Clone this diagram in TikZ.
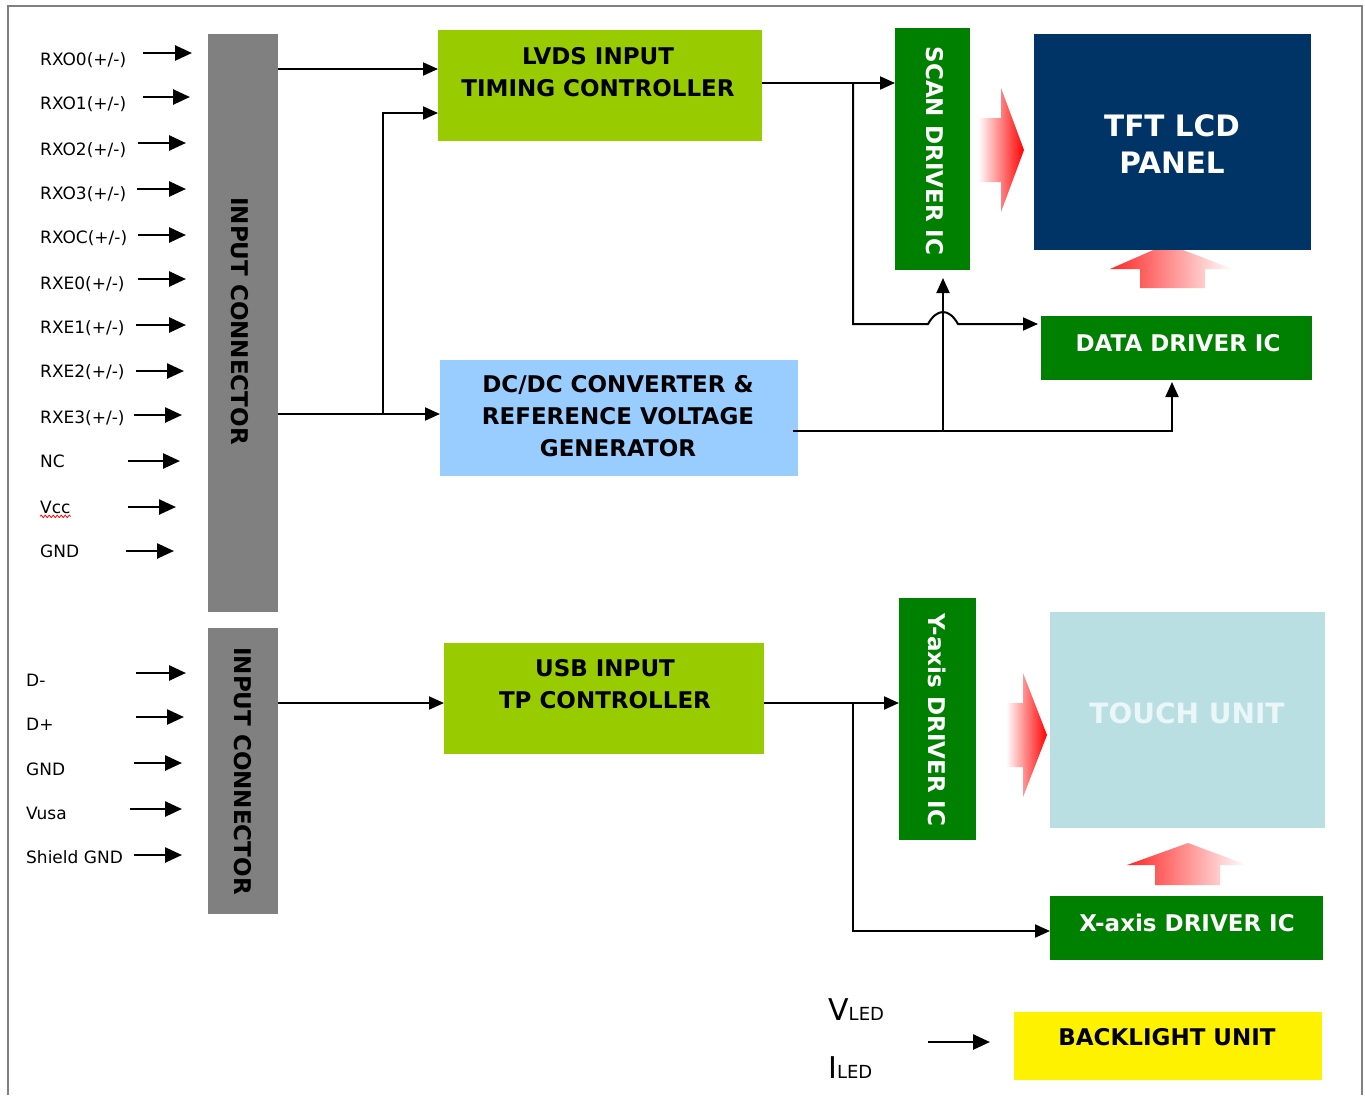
\documentclass[tikz,border=0pt]{standalone}
\usepackage{fontspec}
\setmainfont{DejaVu Sans}
\usetikzlibrary{arrows.meta,decorations.pathmorphing}
\definecolor{lime}{HTML}{99CC00}
\definecolor{sky}{HTML}{99CCFF}
\definecolor{dgreen}{HTML}{008000}
\definecolor{navy}{HTML}{003366}
\definecolor{touchbg}{HTML}{B9DFE3}
\definecolor{touchtx}{HTML}{EAF6F7}
\definecolor{gry}{HTML}{808080}
\newcommand\pmm{(+/-)}
\begin{document}
\begin{tikzpicture}[x=1pt,y=-1pt,
  boxn/.style={inner sep=0, outer sep=0, anchor=north west, draw=none},
  txt/.style={inner sep=0, align=center, font=\bfseries\fontsize{23}{32}\selectfont},
  lab/.style={anchor=west, inner sep=0, font=\fontsize{17}{20}\selectfont, text height=12.4pt, text depth=0pt},
  conn/.style={line width=2pt},
  arr/.style={conn, -{Triangle[length=15pt,width=13pt]}},
  inarr/.style={line width=2.6pt, -{Triangle[length=17pt,width=15pt]}}]
\useasboundingbox (0,0) rectangle (1365,1095);
% frame
\draw[gry, line width=2pt] (8,1095) -- (8,6) -- (1362,6) -- (1362,1095);

% fat gradient arrows (drawn first)
\shade[left color=white, right color=red] (978,118) -- (1001,118) -- (1001,88) -- (1024,150) -- (1001,212) -- (1001,182) -- (978,182) -- cycle;
\shade[left color=red!85, right color=white] (1140,288) -- (1140,269) -- (1110,269) -- (1167,244) -- (1233,269) -- (1205,269) -- (1205,288) -- cycle;
\shade[left color=white, right color=red] (1006,703) -- (1023,703) -- (1023,673) -- (1047,735) -- (1023,797) -- (1023,767) -- (1006,767) -- cycle;
\shade[left color=red!85, right color=white] (1155,885) -- (1155,865) -- (1127,865) -- (1188,843) -- (1247,865) -- (1220,865) -- (1220,885) -- cycle;

% boxes
\node[boxn, fill=gry, minimum width=70pt, minimum height=578pt] (ic1) at (208,34) {};
\node[boxn, fill=gry, minimum width=70pt, minimum height=286pt] (ic2) at (208,628) {};
\node[boxn, fill=lime, minimum width=324pt, minimum height=111pt] (lvds) at (438,30) {};
\node[boxn, fill=sky, minimum width=358pt, minimum height=116pt] (dcdc) at (440,360) {};
\node[boxn, fill=dgreen, minimum width=75pt, minimum height=242pt] (scan) at (895,28) {};
\node[boxn, fill=navy, minimum width=277pt, minimum height=216pt] (tft) at (1034,34) {};
\node[boxn, fill=dgreen, minimum width=271pt, minimum height=64pt] (data) at (1041,316) {};
\node[boxn, fill=lime, minimum width=320pt, minimum height=111pt] (usb) at (444,643) {};
\node[boxn, fill=dgreen, minimum width=77pt, minimum height=242pt] (yax) at (899,598) {};
\node[boxn, fill=touchbg, minimum width=275pt, minimum height=216pt] (touch) at (1050,612) {};
\node[boxn, fill=dgreen, minimum width=273pt, minimum height=64pt] (xax) at (1050,896) {};
\node[boxn, fill=yellow, minimum width=308pt, minimum height=68pt] (bl) at (1014,1012) {};

% box texts
\node[txt, rotate=-90] (ic1t) at (240,321) {INPUT CONNECTOR};
\node[txt, rotate=-90] (ic2t) at (243,771) {INPUT CONNECTOR};
\node[txt] (lvdst) at (598,72) {LVDS INPUT\\TIMING CONTROLLER};
\node[txt] (dcdct) at (618,416) {DC/DC CONVERTER \&\\REFERENCE VOLTAGE\\GENERATOR};
\node[txt, white, rotate=-90] (scant) at (935,151) {SCAN DRIVER IC};
\node[inner sep=0, align=center, white, font=\bfseries\fontsize{29.5}{37}\selectfont] (tftt) at (1172,144.5) {TFT LCD\\PANEL};
\node[txt, white] (datat) at (1178,343) {DATA DRIVER IC};
\node[txt] (usbt) at (605,684) {USB INPUT\\TP CONTROLLER};
\node[txt, white, rotate=-90] (yaxt) at (937,720) {Y-axis DRIVER IC};
\node[inner sep=0, touchtx, font=\bfseries\fontsize{28}{34}\selectfont] (toucht) at (1187,713) {TOUCH UNIT};
\node[txt, white] (xaxt) at (1187,923) {X-axis DRIVER IC};
\node[txt] (blt) at (1167,1037) {BACKLIGHT UNIT};

% input labels and arrows
\foreach \nm/\tx/\lx/\ly/\ay/\xs/\xe in {
  l1/RXO0\pmm/40/59/53/143/192,
  l2/RXO1\pmm/40/103/97/143/190,
  l3/RXO2\pmm/40/149/143/138/186,
  l4/RXO3\pmm/40/193/189/137/186,
  l5/RXOC\pmm/40/237/235/138/186,
  l6/RXE0\pmm/40/283/279/138/186,
  l7/RXE1\pmm/40/327/325/136/186,
  l8/RXE2\pmm/40/371/371/136/184,
  l9/RXE3\pmm/40/417/415/134/182,
  l10/NC/40/461/461/128/180,
  l11/Vcc/40/507/507/128/176,
  l12/GND/40/551/551/126/174,
  m1/D-/26/680/673/136/186,
  m2/D+/26/724/717/136/184,
  m3/GND/26/769/763/134/182,
  m4/Vusa/26/813/809/130/182,
  m5/Shield GND/26/857/855/134/182}{
  \node[lab] (\nm) at (\lx,\ly) {\tx};
  \coordinate (\nm s) at (\xs,\ay);
  \coordinate (\nm e) at (\xe,\ay);
  \draw[inarr] (\nm s) -- (\nm e);
}
\draw[red, line width=0.8pt, decorate, decoration={snake, amplitude=1.2pt, segment length=4pt}] ([yshift=-3pt]l11.south west) -- ([yshift=-3pt]l11.south east);

% connectors
\coordinate (p1) at (278,69);
\draw[arr] (p1) -- (lvds.west |- p1);
\coordinate (p2) at (278,414);
\draw[arr] (p2) -- (dcdc.west |- p2);
\coordinate (p3) at (383,414);
\coordinate (p4) at (438,113);
\draw[arr] (p3) |- (p4);

\coordinate (q1) at (762,83);
\draw[arr] (q1) -- (scan.west |- q1);
\coordinate (q2) at (853,83);
\coordinate (q3) at (1038,324);
\draw[arr] (q2) -- (853,324) -- (928,324) .. controls (937,308) and (949,308) .. (958,324) -- (q3);

\coordinate (r1) at (793,431);
\coordinate (r2) at (1172,382);
\draw[arr] (r1) -| (r2);
\coordinate (r3) at (943,431);
\coordinate (r4) at (943,278);
\draw[arr] (r3) -- (r4);

\coordinate (s1) at (278,703);
\draw[arr] (s1) -- (usb.west |- s1);
\coordinate (s2) at (764,703);
\draw[arr] (s2) -- (yax.west |- s2);
\coordinate (s3) at (853,703);
\coordinate (s4) at (1050,931);
\draw[arr] (s3) |- (s4);

% backlight input
\node[inner sep=0, anchor=base west] (vled) at (828,1020) {\fontsize{30}{32}\selectfont V\fontsize{18}{20}\selectfont LED};
\node[inner sep=0, anchor=base west] (iled) at (828,1078) {\fontsize{30}{32}\selectfont I\fontsize{18}{20}\selectfont LED};
\coordinate (v1) at (928,1042);
\coordinate (v2) at (990,1042);
\draw[inarr] (v1) -- (v2);
\end{tikzpicture}
\end{document}
